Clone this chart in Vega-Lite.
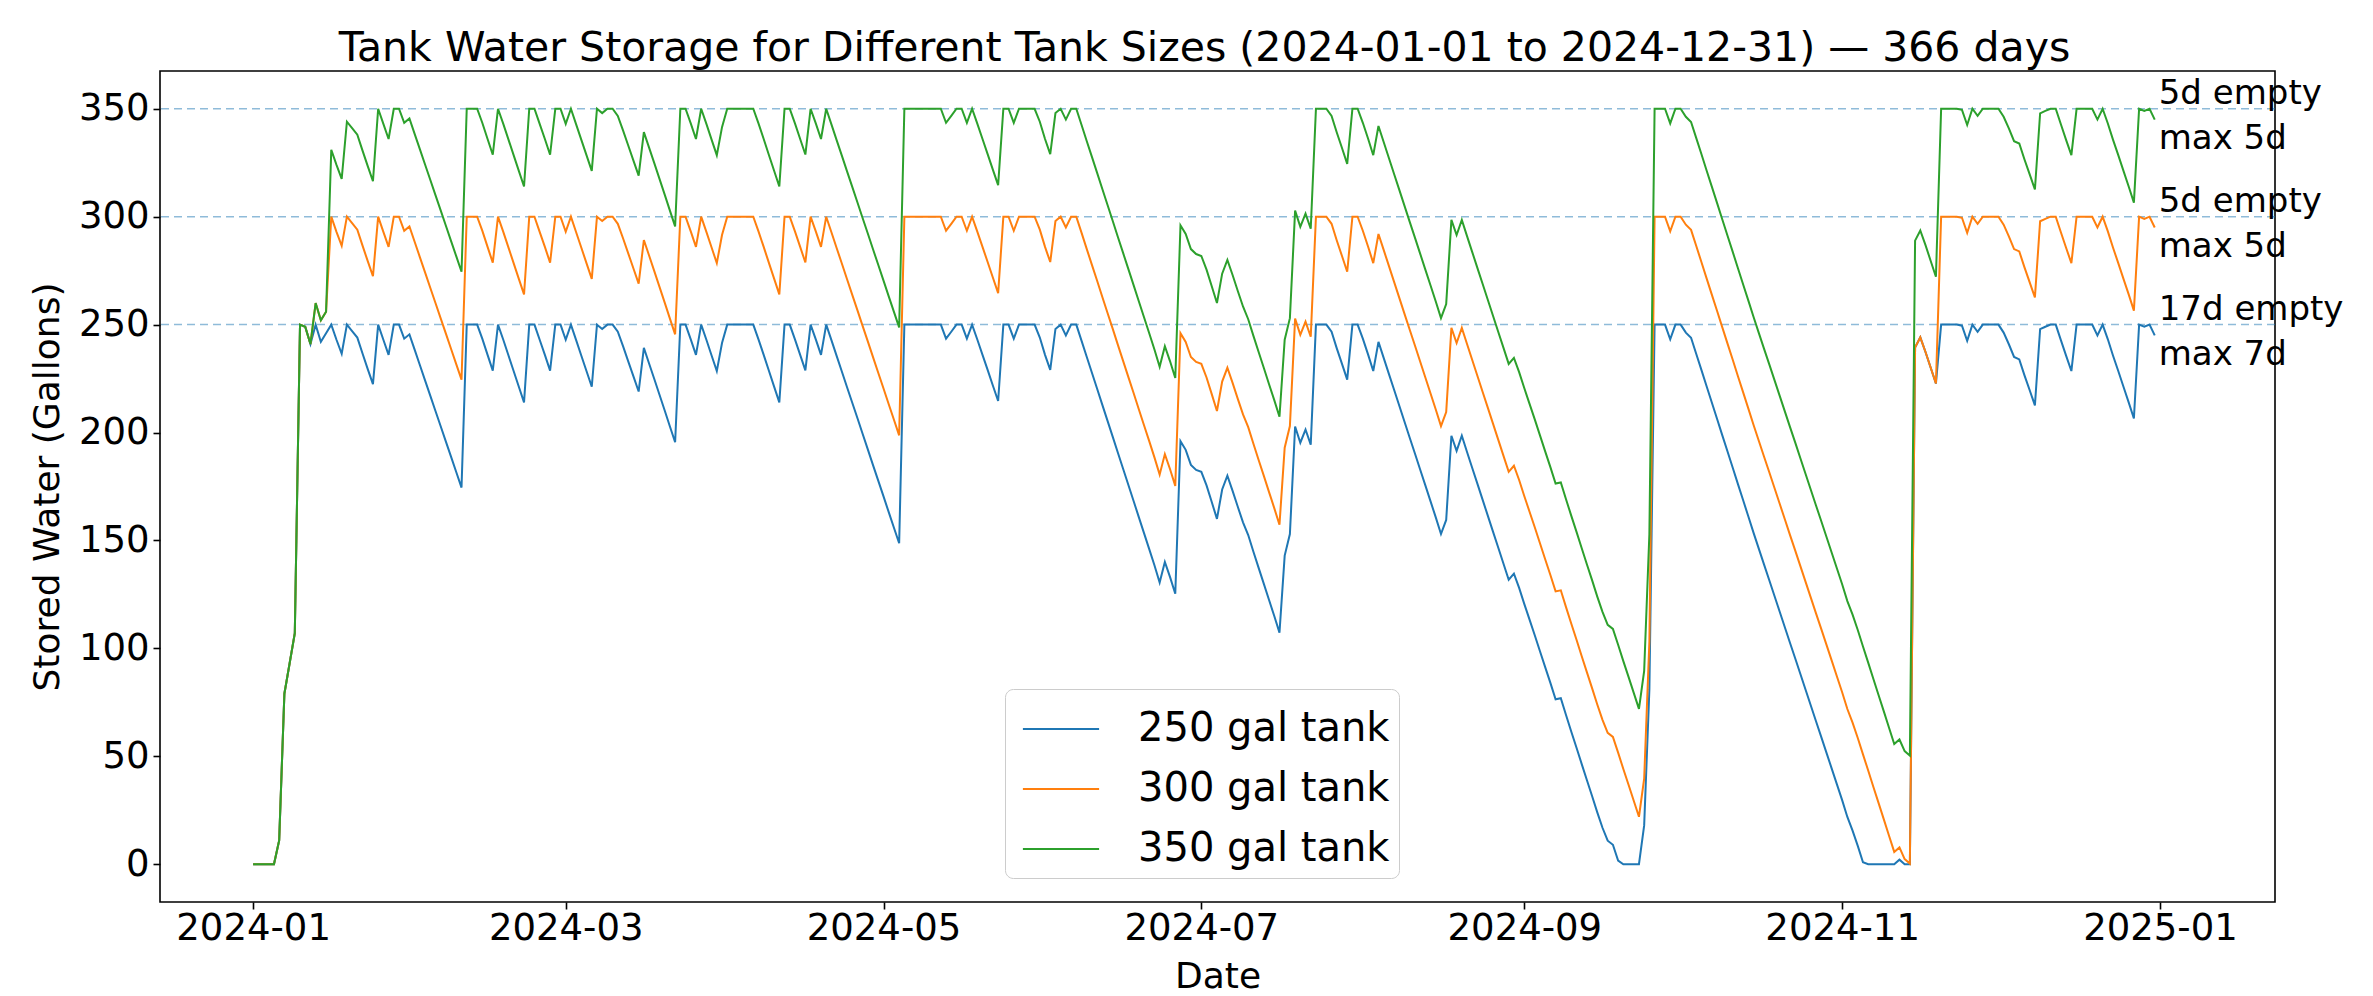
{
"$schema":"https://vega.github.io/schema/vega-lite/v6.json",
"width":2115,"height":831,
"autosize":{"type":"none"},
"padding":{"left":160,"top":71,"right":98,"bottom":94},
"background":"white",
"title":{"text":"Tank Water Storage for Different Tank Sizes (2024-01-01 to 2024-12-31) — 366 days","fontSize":41,"font":"DejaVu Sans","fontWeight":"normal","color":"black","offset":1,"dx":-13},
"config":{"font":"DejaVu Sans","view":{"stroke":"black","strokeWidth":1.6},
"axis":{"grid":false,"domain":false,"tickColor":"black","tickSize":7,"tickWidth":1.6,"labelColor":"black","titleColor":"black","labelFontSize":37,"titleFontSize":36,"titleFontWeight":"normal","labelFont":"DejaVu Sans","titleFont":"DejaVu Sans","labelLimit":400},
"legend":{"labelFont":"DejaVu Sans"}},
"layer":[
{"data":{"values":[{"y":250},{"y":300},{"y":350}]},
"mark":{"type":"rule","strokeDash":[8,5],"color":"#1f77b4","opacity":0.5,"strokeWidth":1.5},
"encoding":{"y":{"field":"y","type":"quantitative","scale":{"domain":[-17.5,367.5],"nice":false,"zero":false}}}},
{"data":{"values":[
{"d":"2024-01-01","a":0,"b":0,"c":0},{"d":"2024-01-02","a":0,"b":0,"c":0},{"d":"2024-01-03","a":0,"b":0,"c":0},{"d":"2024-01-04","a":0,"b":0,"c":0},{"d":"2024-01-05","a":0,"b":0,"c":0},
{"d":"2024-01-06","a":11,"b":11,"c":11},{"d":"2024-01-07","a":79,"b":79,"c":79},{"d":"2024-01-08","a":93,"b":93,"c":93},{"d":"2024-01-09","a":107,"b":107,"c":107},
{"d":"2024-01-10","a":250,"b":250,"c":250},{"d":"2024-01-11","a":249,"b":249,"c":249},{"d":"2024-01-12","a":241,"b":241,"c":241},{"d":"2024-01-13","a":250,"b":260,"c":260},
{"d":"2024-01-14","a":242,"b":252,"c":252},{"d":"2024-01-15","a":246,"b":256,"c":256},{"d":"2024-01-16","a":250,"b":300,"c":331},{"d":"2024-01-17","a":243,"b":293,"c":324},
{"d":"2024-01-18","a":236.5,"b":286.5,"c":317.5},{"d":"2024-01-19","a":250,"b":300,"c":344},{"d":"2024-01-20","a":247,"b":297,"c":341},{"d":"2024-01-21","a":244,"b":294,"c":338},
{"d":"2024-01-22","a":236.6,"b":286.6,"c":330.6},{"d":"2024-01-23","a":229.4,"b":279.4,"c":323.4},{"d":"2024-01-24","a":222.4,"b":272.4,"c":316.4},{"d":"2024-01-25","a":250,"b":300,"c":350},
{"d":"2024-01-26","a":243,"b":293,"c":343},{"d":"2024-01-27","a":236,"b":286,"c":336},{"d":"2024-01-28","a":250,"b":300,"c":350},{"d":"2024-01-29","a":250,"b":300,"c":350},
{"d":"2024-01-30","a":243.5,"b":293.5,"c":343.5},{"d":"2024-01-31","a":245.5,"b":295.5,"c":345.5},
{"d":"2024-02-01","a":238.4,"b":288.4,"c":338.4},{"d":"2024-02-02","a":231.3,"b":281.3,"c":331.3},{"d":"2024-02-03","a":224.2,"b":274.2,"c":324.2},{"d":"2024-02-04","a":217.1,"b":267.1,"c":317.1},
{"d":"2024-02-05","a":210,"b":260,"c":310},{"d":"2024-02-06","a":202.9,"b":252.9,"c":302.9},{"d":"2024-02-07","a":195.8,"b":245.8,"c":295.8},{"d":"2024-02-08","a":188.7,"b":238.7,"c":288.7},
{"d":"2024-02-09","a":181.6,"b":231.6,"c":281.6},{"d":"2024-02-10","a":174.5,"b":224.5,"c":274.5},{"d":"2024-02-11","a":250,"b":300,"c":350},{"d":"2024-02-12","a":250,"b":300,"c":350},
{"d":"2024-02-13","a":250,"b":300,"c":350},{"d":"2024-02-14","a":243.4,"b":293.4,"c":343.4},{"d":"2024-02-15","a":236,"b":286,"c":336},{"d":"2024-02-16","a":228.7,"b":278.7,"c":328.7},
{"d":"2024-02-17","a":250,"b":300,"c":350},{"d":"2024-02-18","a":243.1,"b":293.1,"c":343.1},{"d":"2024-02-19","a":235.8,"b":285.8,"c":335.8},{"d":"2024-02-20","a":228.5,"b":278.5,"c":328.5},
{"d":"2024-02-21","a":221.2,"b":271.2,"c":321.2},{"d":"2024-02-22","a":214,"b":264,"c":314},{"d":"2024-02-23","a":250,"b":300,"c":350},{"d":"2024-02-24","a":250,"b":300,"c":350},
{"d":"2024-02-25","a":243,"b":293,"c":343},{"d":"2024-02-26","a":236,"b":286,"c":336},{"d":"2024-02-27","a":228.7,"b":278.7,"c":328.7},{"d":"2024-02-28","a":250,"b":300,"c":350},
{"d":"2024-02-29","a":250,"b":300,"c":350},
{"d":"2024-03-01","a":243,"b":293,"c":343},{"d":"2024-03-02","a":250,"b":300,"c":350},{"d":"2024-03-03","a":242.8,"b":292.8,"c":342.8},{"d":"2024-03-04","a":235.6,"b":285.6,"c":335.6},
{"d":"2024-03-05","a":228.4,"b":278.4,"c":328.4},{"d":"2024-03-06","a":221.2,"b":271.2,"c":321.2},{"d":"2024-03-07","a":250,"b":300,"c":350},{"d":"2024-03-08","a":248,"b":298,"c":348},
{"d":"2024-03-09","a":250,"b":300,"c":350},{"d":"2024-03-10","a":250,"b":300,"c":350},{"d":"2024-03-11","a":246.7,"b":296.7,"c":346.7},{"d":"2024-03-12","a":240,"b":290,"c":340},
{"d":"2024-03-13","a":233,"b":283,"c":333},{"d":"2024-03-14","a":226,"b":276,"c":326},{"d":"2024-03-15","a":219,"b":269,"c":319},{"d":"2024-03-16","a":239.2,"b":289.2,"c":339.2},
{"d":"2024-03-17","a":232,"b":282,"c":332},{"d":"2024-03-18","a":224.8,"b":274.8,"c":324.8},{"d":"2024-03-19","a":217.5,"b":267.5,"c":317.5},{"d":"2024-03-20","a":210.2,"b":260.2,"c":310.2},
{"d":"2024-03-21","a":202.8,"b":252.8,"c":302.8},{"d":"2024-03-22","a":195.5,"b":245.5,"c":295.5},{"d":"2024-03-23","a":250,"b":300,"c":350},{"d":"2024-03-24","a":250,"b":300,"c":350},
{"d":"2024-03-25","a":243.2,"b":293.2,"c":343.2},{"d":"2024-03-26","a":236,"b":286,"c":336},{"d":"2024-03-27","a":250,"b":300,"c":350},{"d":"2024-03-28","a":243,"b":293,"c":343},
{"d":"2024-03-29","a":235.7,"b":285.7,"c":335.7},{"d":"2024-03-30","a":228.5,"b":278.5,"c":328.5},{"d":"2024-03-31","a":241.5,"b":291.5,"c":341.5},
{"d":"2024-04-01","a":250,"b":300,"c":350},{"d":"2024-04-02","a":250,"b":300,"c":350},{"d":"2024-04-03","a":250,"b":300,"c":350},{"d":"2024-04-04","a":250,"b":300,"c":350},
{"d":"2024-04-05","a":250,"b":300,"c":350},{"d":"2024-04-06","a":250,"b":300,"c":350},{"d":"2024-04-07","a":243.2,"b":293.2,"c":343.2},{"d":"2024-04-08","a":236,"b":286,"c":336},
{"d":"2024-04-09","a":228.6,"b":278.6,"c":328.6},{"d":"2024-04-10","a":221.3,"b":271.3,"c":321.3},{"d":"2024-04-11","a":214,"b":264,"c":314},{"d":"2024-04-12","a":250,"b":300,"c":350},
{"d":"2024-04-13","a":250,"b":300,"c":350},{"d":"2024-04-14","a":243.2,"b":293.2,"c":343.2},{"d":"2024-04-15","a":236,"b":286,"c":336},{"d":"2024-04-16","a":228.8,"b":278.8,"c":328.8},
{"d":"2024-04-17","a":250,"b":300,"c":350},{"d":"2024-04-18","a":243.2,"b":293.2,"c":343.2},{"d":"2024-04-19","a":236,"b":286,"c":336},{"d":"2024-04-20","a":250,"b":300,"c":350},
{"d":"2024-04-21","a":242.8,"b":292.8,"c":342.8},{"d":"2024-04-22","a":235.5,"b":285.5,"c":335.5},{"d":"2024-04-23","a":228.3,"b":278.3,"c":328.3},{"d":"2024-04-24","a":221,"b":271,"c":321},
{"d":"2024-04-25","a":213.8,"b":263.8,"c":313.8},{"d":"2024-04-26","a":206.6,"b":256.6,"c":306.6},{"d":"2024-04-27","a":199.3,"b":249.3,"c":299.3},{"d":"2024-04-28","a":192.1,"b":242.1,"c":292.1},
{"d":"2024-04-29","a":184.8,"b":234.8,"c":284.8},{"d":"2024-04-30","a":177.6,"b":227.6,"c":277.6},
{"d":"2024-05-01","a":170.4,"b":220.4,"c":270.4},{"d":"2024-05-02","a":163.1,"b":213.1,"c":263.1},{"d":"2024-05-03","a":155.9,"b":205.9,"c":255.9},{"d":"2024-05-04","a":148.7,"b":198.7,"c":248.7},
{"d":"2024-05-05","a":250,"b":300,"c":350},{"d":"2024-05-06","a":250,"b":300,"c":350},{"d":"2024-05-07","a":250,"b":300,"c":350},{"d":"2024-05-08","a":250,"b":300,"c":350},
{"d":"2024-05-09","a":250,"b":300,"c":350},{"d":"2024-05-10","a":250,"b":300,"c":350},{"d":"2024-05-11","a":250,"b":300,"c":350},{"d":"2024-05-12","a":250,"b":300,"c":350},
{"d":"2024-05-13","a":243.5,"b":293.5,"c":343.5},{"d":"2024-05-14","a":246.7,"b":296.7,"c":346.7},{"d":"2024-05-15","a":250,"b":300,"c":350},{"d":"2024-05-16","a":250,"b":300,"c":350},
{"d":"2024-05-17","a":243.5,"b":293.5,"c":343.5},{"d":"2024-05-18","a":250,"b":300,"c":350},{"d":"2024-05-19","a":243.1,"b":293.1,"c":343.1},{"d":"2024-05-20","a":236,"b":286,"c":336},
{"d":"2024-05-21","a":228.9,"b":278.9,"c":328.9},{"d":"2024-05-22","a":221.7,"b":271.7,"c":321.7},{"d":"2024-05-23","a":214.6,"b":264.6,"c":314.6},{"d":"2024-05-24","a":250,"b":300,"c":350},
{"d":"2024-05-25","a":250,"b":300,"c":350},{"d":"2024-05-26","a":243.5,"b":293.5,"c":343.5},{"d":"2024-05-27","a":250,"b":300,"c":350},{"d":"2024-05-28","a":250,"b":300,"c":350},
{"d":"2024-05-29","a":250,"b":300,"c":350},{"d":"2024-05-30","a":250,"b":300,"c":350},{"d":"2024-05-31","a":244,"b":294,"c":344},
{"d":"2024-06-01","a":236,"b":286,"c":336},{"d":"2024-06-02","a":229,"b":279,"c":329},{"d":"2024-06-03","a":248,"b":298,"c":348},{"d":"2024-06-04","a":250,"b":300,"c":350},
{"d":"2024-06-05","a":245,"b":295,"c":345},{"d":"2024-06-06","a":250,"b":300,"c":350},{"d":"2024-06-07","a":250,"b":300,"c":350},{"d":"2024-06-08","a":242.6,"b":292.6,"c":342.6},
{"d":"2024-06-09","a":235.1,"b":285.1,"c":335.1},{"d":"2024-06-10","a":227.7,"b":277.7,"c":327.7},{"d":"2024-06-11","a":220.3,"b":270.3,"c":320.3},{"d":"2024-06-12","a":212.8,"b":262.8,"c":312.8},
{"d":"2024-06-13","a":205.4,"b":255.4,"c":305.4},{"d":"2024-06-14","a":198,"b":248,"c":298},{"d":"2024-06-15","a":190.5,"b":240.5,"c":290.5},{"d":"2024-06-16","a":183.1,"b":233.1,"c":283.1},
{"d":"2024-06-17","a":175.7,"b":225.7,"c":275.7},{"d":"2024-06-18","a":168.3,"b":218.3,"c":268.3},{"d":"2024-06-19","a":160.8,"b":210.8,"c":260.8},{"d":"2024-06-20","a":153.4,"b":203.4,"c":253.4},
{"d":"2024-06-21","a":146,"b":196,"c":246},{"d":"2024-06-22","a":138.5,"b":188.5,"c":238.5},{"d":"2024-06-23","a":130.5,"b":180.5,"c":230.5},{"d":"2024-06-24","a":140,"b":190,"c":240},
{"d":"2024-06-25","a":133,"b":183,"c":233},{"d":"2024-06-26","a":125.3,"b":175.3,"c":225.3},{"d":"2024-06-27","a":196,"b":246,"c":296},{"d":"2024-06-28","a":192,"b":242,"c":292},
{"d":"2024-06-29","a":185,"b":235,"c":285},{"d":"2024-06-30","a":182.7,"b":232.7,"c":282.7},
{"d":"2024-07-01","a":181.8,"b":231.8,"c":281.8},{"d":"2024-07-02","a":175.5,"b":225.5,"c":275.5},{"d":"2024-07-03","a":167.8,"b":217.8,"c":267.8},{"d":"2024-07-04","a":160,"b":210,"c":260},
{"d":"2024-07-05","a":173.6,"b":223.6,"c":273.6},{"d":"2024-07-06","a":180,"b":230,"c":280},{"d":"2024-07-07","a":173,"b":223,"c":273},{"d":"2024-07-08","a":165.6,"b":215.6,"c":265.6},
{"d":"2024-07-09","a":158.4,"b":208.4,"c":258.4},{"d":"2024-07-10","a":152.5,"b":202.5,"c":252.5},{"d":"2024-07-11","a":144.8,"b":194.8,"c":244.8},{"d":"2024-07-12","a":137.3,"b":187.3,"c":237.3},
{"d":"2024-07-13","a":129.9,"b":179.9,"c":229.9},{"d":"2024-07-14","a":122.4,"b":172.4,"c":222.4},{"d":"2024-07-15","a":115,"b":165,"c":215},{"d":"2024-07-16","a":107.3,"b":157.3,"c":207.3},
{"d":"2024-07-17","a":143,"b":193,"c":243},{"d":"2024-07-18","a":153,"b":203,"c":253},{"d":"2024-07-19","a":202.8,"b":252.8,"c":302.8},{"d":"2024-07-20","a":195.3,"b":245.3,"c":295.3},
{"d":"2024-07-21","a":201.4,"b":251.4,"c":301.4},{"d":"2024-07-22","a":194.4,"b":244.4,"c":294.4},{"d":"2024-07-23","a":250,"b":300,"c":350},{"d":"2024-07-24","a":250,"b":300,"c":350},
{"d":"2024-07-25","a":250,"b":300,"c":350},{"d":"2024-07-26","a":246.7,"b":296.7,"c":346.7},{"d":"2024-07-27","a":239,"b":289,"c":339},{"d":"2024-07-28","a":231.8,"b":281.8,"c":331.8},
{"d":"2024-07-29","a":224.5,"b":274.5,"c":324.5},{"d":"2024-07-30","a":250,"b":300,"c":350},{"d":"2024-07-31","a":250,"b":300,"c":350},
{"d":"2024-08-01","a":243.5,"b":293.5,"c":343.5},{"d":"2024-08-02","a":236.2,"b":286.2,"c":336.2},{"d":"2024-08-03","a":228.5,"b":278.5,"c":328.5},{"d":"2024-08-04","a":242,"b":292,"c":342},
{"d":"2024-08-05","a":234.6,"b":284.6,"c":334.6},{"d":"2024-08-06","a":227.2,"b":277.2,"c":327.2},{"d":"2024-08-07","a":219.8,"b":269.8,"c":319.8},{"d":"2024-08-08","a":212.4,"b":262.4,"c":312.4},
{"d":"2024-08-09","a":205,"b":255,"c":305},{"d":"2024-08-10","a":197.6,"b":247.6,"c":297.6},{"d":"2024-08-11","a":190.3,"b":240.3,"c":290.3},{"d":"2024-08-12","a":182.9,"b":232.9,"c":282.9},
{"d":"2024-08-13","a":175.5,"b":225.5,"c":275.5},{"d":"2024-08-14","a":168.1,"b":218.1,"c":268.1},{"d":"2024-08-15","a":160.7,"b":210.7,"c":260.7},{"d":"2024-08-16","a":153,"b":203,"c":253},
{"d":"2024-08-17","a":159.5,"b":209.5,"c":259.5},{"d":"2024-08-18","a":198.5,"b":248.5,"c":298.5},{"d":"2024-08-19","a":191.5,"b":241.5,"c":291.5},{"d":"2024-08-20","a":198.5,"b":248.5,"c":298.5},
{"d":"2024-08-21","a":191,"b":241,"c":291},{"d":"2024-08-22","a":183.6,"b":233.6,"c":283.6},{"d":"2024-08-23","a":176.2,"b":226.2,"c":276.2},{"d":"2024-08-24","a":168.8,"b":218.8,"c":268.8},
{"d":"2024-08-25","a":161.4,"b":211.4,"c":261.4},{"d":"2024-08-26","a":154,"b":204,"c":254},{"d":"2024-08-27","a":146.6,"b":196.6,"c":246.6},{"d":"2024-08-28","a":139.2,"b":189.2,"c":239.2},
{"d":"2024-08-29","a":131.8,"b":181.8,"c":231.8},{"d":"2024-08-30","a":134.6,"b":184.6,"c":234.6},{"d":"2024-08-31","a":128,"b":178,"c":228},
{"d":"2024-09-01","a":120.5,"b":170.5,"c":220.5},{"d":"2024-09-02","a":113.3,"b":163.3,"c":213.3},{"d":"2024-09-03","a":106.1,"b":156.1,"c":206.1},{"d":"2024-09-04","a":98.7,"b":148.7,"c":198.7},
{"d":"2024-09-05","a":91.3,"b":141.3,"c":191.3},{"d":"2024-09-06","a":84,"b":134,"c":184},{"d":"2024-09-07","a":76.4,"b":126.4,"c":176.4},{"d":"2024-09-08","a":76.9,"b":126.9,"c":176.9},
{"d":"2024-09-09","a":69.1,"b":119.1,"c":169.1},{"d":"2024-09-10","a":61.5,"b":111.5,"c":161.5},{"d":"2024-09-11","a":54.1,"b":104.1,"c":154.1},{"d":"2024-09-12","a":46.5,"b":96.5,"c":146.5},
{"d":"2024-09-13","a":39,"b":89,"c":139},{"d":"2024-09-14","a":31.6,"b":81.6,"c":131.6},{"d":"2024-09-15","a":24,"b":74,"c":124},{"d":"2024-09-16","a":16.9,"b":66.9,"c":116.9},
{"d":"2024-09-17","a":10.9,"b":60.9,"c":110.9},{"d":"2024-09-18","a":9,"b":59,"c":109},{"d":"2024-09-19","a":1.7,"b":51.7,"c":101.7},{"d":"2024-09-20","a":0,"b":44.1,"c":94.1},
{"d":"2024-09-21","a":0,"b":36.8,"c":86.8},{"d":"2024-09-22","a":0,"b":29.4,"c":79.4},{"d":"2024-09-23","a":0,"b":22,"c":72},{"d":"2024-09-24","a":18,"b":39.6,"c":89.6},
{"d":"2024-09-25","a":81,"b":103,"c":153},{"d":"2024-09-26","a":250,"b":300,"c":350},{"d":"2024-09-27","a":250,"b":300,"c":350},{"d":"2024-09-28","a":250,"b":300,"c":350},
{"d":"2024-09-29","a":243.2,"b":293.2,"c":343.2},{"d":"2024-09-30","a":250,"b":300,"c":350},
{"d":"2024-10-01","a":250,"b":300,"c":350},{"d":"2024-10-02","a":246.3,"b":296.3,"c":346.3},{"d":"2024-10-03","a":243.9,"b":293.9,"c":343.9},{"d":"2024-10-04","a":236.4,"b":286.4,"c":336.4},
{"d":"2024-10-05","a":228.9,"b":278.9,"c":328.9},{"d":"2024-10-06","a":221.3,"b":271.3,"c":321.3},{"d":"2024-10-07","a":213.8,"b":263.8,"c":313.8},{"d":"2024-10-08","a":206.3,"b":256.3,"c":306.3},
{"d":"2024-10-09","a":198.7,"b":248.7,"c":298.7},{"d":"2024-10-10","a":191.2,"b":241.2,"c":291.2},{"d":"2024-10-11","a":183.7,"b":233.7,"c":283.7},{"d":"2024-10-12","a":176.1,"b":226.1,"c":276.1},
{"d":"2024-10-13","a":168.6,"b":218.6,"c":268.6},{"d":"2024-10-14","a":161.1,"b":211.1,"c":261.1},{"d":"2024-10-15","a":153.5,"b":203.5,"c":253.5},{"d":"2024-10-16","a":146.2,"b":196.2,"c":246.2},
{"d":"2024-10-17","a":138.9,"b":188.9,"c":238.9},{"d":"2024-10-18","a":131.7,"b":181.7,"c":231.7},{"d":"2024-10-19","a":124.4,"b":174.4,"c":224.4},{"d":"2024-10-20","a":117.1,"b":167.1,"c":217.1},
{"d":"2024-10-21","a":109.8,"b":159.8,"c":209.8},{"d":"2024-10-22","a":102.5,"b":152.5,"c":202.5},{"d":"2024-10-23","a":95.3,"b":145.3,"c":195.3},{"d":"2024-10-24","a":88,"b":138,"c":188},
{"d":"2024-10-25","a":80.7,"b":130.7,"c":180.7},{"d":"2024-10-26","a":73.4,"b":123.4,"c":173.4},{"d":"2024-10-27","a":66.1,"b":116.1,"c":166.1},{"d":"2024-10-28","a":58.9,"b":108.9,"c":158.9},
{"d":"2024-10-29","a":51.6,"b":101.6,"c":151.6},{"d":"2024-10-30","a":44.3,"b":94.3,"c":144.3},{"d":"2024-10-31","a":37,"b":87,"c":137},
{"d":"2024-11-01","a":29.7,"b":79.7,"c":129.7},{"d":"2024-11-02","a":21.9,"b":71.9,"c":121.9},{"d":"2024-11-03","a":15.6,"b":65.6,"c":115.6},{"d":"2024-11-04","a":8.5,"b":58.5,"c":108.5},
{"d":"2024-11-05","a":0.9,"b":50.9,"c":100.9},{"d":"2024-11-06","a":0,"b":43.4,"c":93.4},{"d":"2024-11-07","a":0,"b":35.8,"c":85.8},{"d":"2024-11-08","a":0,"b":28.3,"c":78.3},
{"d":"2024-11-09","a":0,"b":20.8,"c":70.8},{"d":"2024-11-10","a":0,"b":13.2,"c":63.2},{"d":"2024-11-11","a":0,"b":5.7,"c":55.7},{"d":"2024-11-12","a":2.1,"b":7.8,"c":57.8},
{"d":"2024-11-13","a":0,"b":2.4,"c":52.4},{"d":"2024-11-14","a":0,"b":0.3,"c":50.3},{"d":"2024-11-15","a":239.4,"b":239.4,"c":288.9},{"d":"2024-11-16","a":244.1,"b":244.1,"c":293.6},
{"d":"2024-11-17","a":237.3,"b":237.3,"c":286.8},{"d":"2024-11-18","a":230,"b":230,"c":279.5},{"d":"2024-11-19","a":222.7,"b":222.7,"c":272.2},{"d":"2024-11-20","a":250,"b":300,"c":350},
{"d":"2024-11-21","a":250,"b":300,"c":350},{"d":"2024-11-22","a":250,"b":300,"c":350},{"d":"2024-11-23","a":250,"b":300,"c":350},{"d":"2024-11-24","a":249.5,"b":299.5,"c":349.5},
{"d":"2024-11-25","a":242.5,"b":292.5,"c":342.5},{"d":"2024-11-26","a":250,"b":300,"c":350},{"d":"2024-11-27","a":246.7,"b":296.7,"c":346.7},{"d":"2024-11-28","a":250,"b":300,"c":350},
{"d":"2024-11-29","a":250,"b":300,"c":350},{"d":"2024-11-30","a":250,"b":300,"c":350},
{"d":"2024-12-01","a":250,"b":300,"c":350},{"d":"2024-12-02","a":246.3,"b":296.3,"c":346.3},{"d":"2024-12-03","a":240.9,"b":290.9,"c":340.9},{"d":"2024-12-04","a":235,"b":285,"c":335},
{"d":"2024-12-05","a":233.9,"b":283.9,"c":333.9},{"d":"2024-12-06","a":226.5,"b":276.5,"c":326.5},{"d":"2024-12-07","a":219.6,"b":269.6,"c":319.6},{"d":"2024-12-08","a":212.6,"b":262.6,"c":312.6},
{"d":"2024-12-09","a":247.9,"b":297.9,"c":347.9},{"d":"2024-12-10","a":249,"b":299,"c":349},{"d":"2024-12-11","a":250,"b":300,"c":350},{"d":"2024-12-12","a":250,"b":300,"c":350},
{"d":"2024-12-13","a":242.7,"b":292.7,"c":342.7},{"d":"2024-12-14","a":235.5,"b":285.5,"c":335.5},{"d":"2024-12-15","a":228.5,"b":278.5,"c":328.5},{"d":"2024-12-16","a":250,"b":300,"c":350},
{"d":"2024-12-17","a":250,"b":300,"c":350},{"d":"2024-12-18","a":250,"b":300,"c":350},{"d":"2024-12-19","a":250,"b":300,"c":350},{"d":"2024-12-20","a":245,"b":295,"c":345},
{"d":"2024-12-21","a":250,"b":300,"c":350},{"d":"2024-12-22","a":243.2,"b":293.2,"c":343.2},{"d":"2024-12-23","a":235.6,"b":285.6,"c":335.6},{"d":"2024-12-24","a":228.5,"b":278.5,"c":328.5},
{"d":"2024-12-25","a":221.2,"b":271.2,"c":321.2},{"d":"2024-12-26","a":214,"b":264,"c":314},{"d":"2024-12-27","a":206.5,"b":256.5,"c":306.5},{"d":"2024-12-28","a":250,"b":300,"c":350},
{"d":"2024-12-29","a":249,"b":299,"c":349},{"d":"2024-12-30","a":250,"b":300,"c":350},{"d":"2024-12-31","a":245,"b":295,"c":345}
]},
"transform":[{"fold":["a","b","c"],"as":["k","v"]}],
"mark":{"type":"line","strokeWidth":2},
"encoding":{
"x":{"field":"d","type":"temporal","scale":{"type":"utc","domain":[{"year":2023,"month":12,"date":14,"hours":3,"utc":true},{"year":2025,"month":1,"date":23,"hours":2,"utc":true}],"nice":false},
"axis":{"title":"Date","labelExpr":"utcFormat(datum.value, '%Y-%m')","labelPadding":1,"titlePadding":13,"labelFlush":false,
"values":[{"year":2024,"month":1,"date":1,"utc":true},{"year":2024,"month":3,"date":1,"utc":true},{"year":2024,"month":5,"date":1,"utc":true},{"year":2024,"month":7,"date":1,"utc":true},{"year":2024,"month":9,"date":1,"utc":true},{"year":2024,"month":11,"date":1,"utc":true},{"year":2025,"month":1,"date":1,"utc":true}]}},
"y":{"field":"v","type":"quantitative","scale":{"domain":[-17.5,367.5],"nice":false,"zero":false},
"axis":{"title":"Stored Water (Gallons)","values":[0,50,100,150,200,250,300,350],"labelPadding":4,"titlePadding":12}},
"color":{"field":"k","type":"nominal","scale":{"domain":["a","b","c"],"range":["#1f77b4","#ff7f0e","#2ca02c"]},
"legend":{"title":null,"orient":"none","legendX":845,"legendY":618,"symbolType":"M-1.27,0H1.27","symbolSize":3600,"symbolOffset":16,"symbolStrokeWidth":2,"labelFontSize":40,"labelColor":"black","labelOffset":46,"labelLimit":500,"rowPadding":9,"padding":9,"strokeColor":"#cccccc","fillColor":"white","cornerRadius":8,
"labelExpr":"datum.label == 'a' ? '250 gal tank' : datum.label == 'b' ? '300 gal tank' : '350 gal tank'"}}}},
{"data":{"values":[{"d":"2024-12-31","y":350,"t":"5d empty\nmax 5d"},{"d":"2024-12-31","y":300,"t":"5d empty\nmax 5d"},{"d":"2024-12-31","y":250,"t":"17d empty\nmax 7d"}]},
"mark":{"type":"text","align":"left","baseline":"middle","lineBreak":"\n","fontSize":34,"dx":4,"dy":-15,"color":"black","lineHeight":45},
"encoding":{"x":{"field":"d","type":"temporal","scale":{"type":"utc"}},"y":{"field":"y","type":"quantitative"},"text":{"field":"t","type":"nominal"}}}
]
}
